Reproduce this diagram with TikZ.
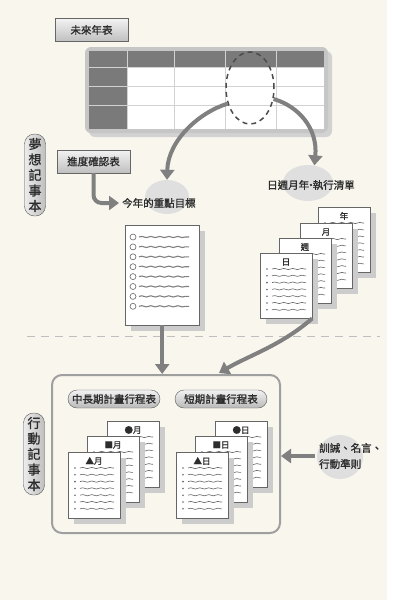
\documentclass[tikz,border=0pt]{standalone}
\usepackage{fontspec}
\usepackage{xcolor}
\usetikzlibrary{shapes.geometric,arrows.meta,positioning,calc,decorations.pathmorphing}
\newfontfamily\cjk[FakeBold=1.2]{Noto Sans CJK TC}
\definecolor{paper}{RGB}{248,246,237}
\definecolor{ink}{RGB}{45,45,45}

\tikzset{
  tagbox/.style={draw=black!60, top color=gray!10, bottom color=gray!50, minimum width=73pt, minimum height=23pt, inner sep=0pt, font=\cjk\fontsize{10.5}{12}\selectfont, text=ink},
  hpill/.style={draw=black!65, top color=gray!10, bottom color=gray!55, rounded corners=9pt, minimum width=92pt, minimum height=18pt, inner sep=0pt, font=\cjk\fontsize{10.5}{12}\selectfont, text=ink},
  vpill/.style={draw=black!65, left color=gray!15, right color=gray!50, rounded corners=10pt, minimum width=21pt, minimum height=82pt, inner sep=0pt, align=center, font=\cjk\fontsize{13}{15.5}\selectfont, text=ink},
  blob/.style={ellipse, fill=gray!25, inner sep=0pt},
  caption/.style={font=\cjk\fontsize{10.5}{16}\selectfont, text=ink, inner sep=0pt},
  sheet/.style={draw=black!60, fill=white, minimum width=52pt, minimum height=66pt, inner sep=0pt, anchor=north west},
  sheetshade/.style={fill=gray!40},
  pagelbl/.style={font=\cjk\fontsize{8.5}{9}\selectfont, text=ink, inner sep=0pt},
  squiggle/.style={decorate, decoration={snake, amplitude=0.6pt, segment length=9pt}, draw=gray!80!black, line width=0.6pt},
  flowarrow/.style={draw=gray, line width=4pt, -{Triangle[width=14pt,length=10pt]}},
  selring/.style={ellipse, draw=black!70, dashed, dash pattern=on 5pt off 4pt, line width=1.5pt, inner sep=0pt},
  sepline/.style={draw=gray!50, line width=1pt, dash pattern=on 8pt off 6pt}
}

\begin{document}
\begin{tikzpicture}[x=1pt, y=-1pt]
    % paper
    \fill[paper] (0,0) rectangle (387,600);
    \fill[white] (387,0) rectangle (400,600);
    \useasboundingbox (0,0) rectangle (400,600);

    % Future year table
    \node[tagbox] (yearplan) at (91.5,30) {未來年表};
    \fill[gray!35, rounded corners=6pt] (89,51) rectangle (332,137);
    \node[fill=gray!45, rounded corners=6pt, minimum width=243pt, minimum height=86pt, inner sep=0pt] (tbl) at (206.5,90) {};
    \fill[white] (89,51) rectangle (324,129);
    \fill[black!52] (89,51) rectangle (324,67);
    \fill[black!52] (89,67) rectangle (127,129);
    \foreach \x in {127,174,225,276} {
        \draw[gray!35] (\x,51) -- (\x,129);
    }
    \foreach \y in {67,86,105} {
        \draw[gray!35] (89,\y) -- (324,\y);
    }
    \node[selring, minimum width=48pt, minimum height=72pt] (sel) at (250,88) {};

    % Dream notebook
    \node[vpill] (dreampill) at (35,175) {夢\\想\\記\\事\\本};
    \node[tagbox] (progress) at (93.5,161.5) {進度確認表};

    \node[blob, minimum width=44pt, minimum height=34pt] (goalblob) at (167,197) {};
    \node[caption, anchor=west] (goaltxt) at (122,203) {今年的重點目標};
    \node[blob, minimum width=50pt, minimum height=36pt] (listblob) at (308,183) {};
    \node[caption, anchor=west] (listtxt) at (267,185) {日週月年\kern-3.5pt·\kern-3.5pt執行清單};

    \draw[flowarrow] (sel.215) .. controls (200,112) and (168,140) .. (goalblob.north);
    \draw[flowarrow] (sel.-25) .. controls (298,106) and (318,128) .. (listblob.70);
    \draw[flowarrow, rounded corners=8pt] (progress.south) |- ([xshift=-3pt]goaltxt.west);

    % Yearly goal sheet
    \fill[sheetshade] (131,231) rectangle (205,331);
    \node[sheet, minimum width=74pt, minimum height=100pt] (goaldoc) at (125,225) {};
    \foreach \i in {0,...,7} {
        \draw[gray!80!black, line width=0.6pt] (133,237+\i*9.9) circle (3pt);
        \draw[squiggle, line width=1.1pt, draw=gray] (139,237+\i*9.9) -- (189,237+\i*9.9);
    }

    % Day / week / month / year sheets
    \foreach \px/\py/\lbl/\nm in {318/207/年/yearpg, 300/223/月/monthpg, 279/238/週/weekpg, 260/253/日/daypg} {
        \fill[sheetshade] (\px+6,\py+6) rectangle (\px+58,\py+71);
        \node[sheet, minimum height=65pt] (\nm) at (\px,\py) {};
        \node[pagelbl] at (\px+26,\py+9) {\lbl};
        \foreach \i in {0,...,6} {
            \fill[gray!80!black] (\px+7,\py+16+\i*6.8) circle (0.9pt);
            \draw[squiggle] (\px+12,\py+16+\i*6.8) -- (\px+46,\py+16+\i*6.8);
        }
    }

    \draw[sepline] (27,336) -- (380,336);

    % Action notebook
    \node[draw=gray!75, line width=2pt, rounded corners=10pt, minimum width=228pt, minimum height=158pt] (actbox) at (166,454) {};
    \node[vpill] (actpill) at (34,454) {行\\動\\記\\事\\本};
    \node[hpill] (midpill) at (114,399) {中長期計畫行程表};
    \node[hpill] (shortpill) at (221,399) {短期計畫行程表};

    \foreach \px/\py/\lbl/\nm in {107/421/●月/mida, 87/436/■月/midb, 68/452/▲月/midc, 215/421/●日/shorta, 195/436/■日/shortb, 176/452/▲日/shortc} {
        \fill[sheetshade] (\px+6,\py+6) rectangle (\px+58,\py+72);
        \node[sheet] (\nm) at (\px,\py) {};
        \node[pagelbl] at (\px+26,\py+9) {\lbl};
        \foreach \i in {0,...,6} {
            \fill[gray!80!black] (\px+7,\py+16+\i*6.8) circle (0.9pt);
            \draw[squiggle] (\px+12,\py+16+\i*6.8) -- (\px+46,\py+16+\i*6.8);
        }
    }

    \draw[flowarrow] (goaldoc.south) -- (goaldoc.south |- actbox.north);
    \draw[flowarrow] (daypg.south) ++(26,0) .. controls (282,345) and (248,356) .. ($(actbox.north west)+(168,-1)$);

    % Mottos
    \node[blob, minimum width=46pt, minimum height=44pt] (mottoblob) at (340,457) {};
    \node[caption, anchor=west, align=left] (mottotxt) at (319,456) {訓誡、名言、\\行動準則};
    \draw[flowarrow, shorten <=4pt] (mottotxt.west) -- (mottotxt.west -| actbox.east);
\end{tikzpicture}
\end{document}
